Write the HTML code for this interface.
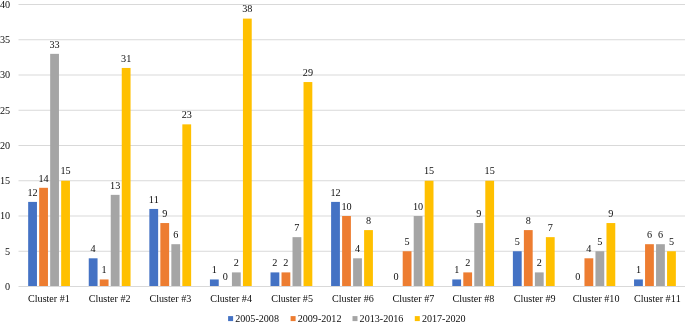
<!DOCTYPE html><html><head><meta charset="utf-8"><style>html,body{margin:0;padding:0;background:#fff;overflow:hidden}svg{display:block;will-change:transform}text{font-kerning:none;font-family:"Liberation Serif",serif;font-size:10.2px;fill:#0d0d0d}</style></head><body>
<svg width="685" height="325" viewBox="0 0 685 325">
<rect width="685" height="325" fill="#fff"/>
<line x1="18.5" x2="685" y1="286.50" y2="286.50" stroke="#D9D9D9" stroke-width="1"/>
<text x="10.1" y="289.80" text-anchor="end">0</text>
<line x1="18.5" x2="685" y1="251.25" y2="251.25" stroke="#D9D9D9" stroke-width="1"/>
<text x="10.1" y="254.55" text-anchor="end">5</text>
<line x1="18.5" x2="685" y1="216.00" y2="216.00" stroke="#D9D9D9" stroke-width="1"/>
<text x="10.1" y="219.30" text-anchor="end">10</text>
<line x1="18.5" x2="685" y1="180.75" y2="180.75" stroke="#D9D9D9" stroke-width="1"/>
<text x="10.1" y="184.05" text-anchor="end">15</text>
<line x1="18.5" x2="685" y1="145.50" y2="145.50" stroke="#D9D9D9" stroke-width="1"/>
<text x="10.1" y="148.80" text-anchor="end">20</text>
<line x1="18.5" x2="685" y1="110.25" y2="110.25" stroke="#D9D9D9" stroke-width="1"/>
<text x="10.1" y="113.55" text-anchor="end">25</text>
<line x1="18.5" x2="685" y1="75.00" y2="75.00" stroke="#D9D9D9" stroke-width="1"/>
<text x="10.1" y="78.30" text-anchor="end">30</text>
<line x1="18.5" x2="685" y1="39.75" y2="39.75" stroke="#D9D9D9" stroke-width="1"/>
<text x="10.1" y="43.05" text-anchor="end">35</text>
<line x1="18.5" x2="685" y1="4.50" y2="4.50" stroke="#D9D9D9" stroke-width="1"/>
<text x="10.1" y="7.80" text-anchor="end">40</text>
<rect x="28.16" y="201.90" width="8.80" height="84.10" fill="#4472C4"/>
<text x="32.56" y="195.60" text-anchor="middle">12</text>
<rect x="39.16" y="187.80" width="8.80" height="98.20" fill="#ED7D31"/>
<text x="43.56" y="181.50" text-anchor="middle">14</text>
<rect x="50.16" y="53.85" width="8.80" height="232.15" fill="#A5A5A5"/>
<text x="54.56" y="47.55" text-anchor="middle">33</text>
<rect x="61.16" y="180.75" width="8.80" height="105.25" fill="#FFC000"/>
<text x="65.56" y="174.45" text-anchor="middle">15</text>
<text x="48.95" y="302.2" text-anchor="middle" style="font-size:10.1px">Cluster #1</text>
<rect x="88.75" y="258.30" width="8.80" height="27.70" fill="#4472C4"/>
<text x="93.15" y="252.00" text-anchor="middle">4</text>
<rect x="99.75" y="279.45" width="8.80" height="6.55" fill="#ED7D31"/>
<text x="104.15" y="273.15" text-anchor="middle">1</text>
<rect x="110.75" y="194.85" width="8.80" height="91.15" fill="#A5A5A5"/>
<text x="115.15" y="188.55" text-anchor="middle">13</text>
<rect x="121.75" y="67.95" width="8.80" height="218.05" fill="#FFC000"/>
<text x="126.15" y="61.65" text-anchor="middle">31</text>
<text x="109.65" y="302.2" text-anchor="middle" style="font-size:10.1px">Cluster #2</text>
<rect x="149.34" y="208.95" width="8.80" height="77.05" fill="#4472C4"/>
<text x="153.74" y="202.65" text-anchor="middle">11</text>
<rect x="160.34" y="223.05" width="8.80" height="62.95" fill="#ED7D31"/>
<text x="164.74" y="216.75" text-anchor="middle">9</text>
<rect x="171.34" y="244.20" width="8.80" height="41.80" fill="#A5A5A5"/>
<text x="175.74" y="237.90" text-anchor="middle">6</text>
<rect x="182.34" y="124.35" width="8.80" height="161.65" fill="#FFC000"/>
<text x="186.74" y="118.05" text-anchor="middle">23</text>
<text x="170.35" y="302.2" text-anchor="middle" style="font-size:10.1px">Cluster #3</text>
<rect x="209.93" y="279.45" width="8.80" height="6.55" fill="#4472C4"/>
<text x="214.33" y="273.15" text-anchor="middle">1</text>
<text x="225.33" y="280.20" text-anchor="middle">0</text>
<rect x="231.93" y="272.40" width="8.80" height="13.60" fill="#A5A5A5"/>
<text x="236.33" y="266.10" text-anchor="middle">2</text>
<rect x="242.93" y="18.60" width="8.80" height="267.40" fill="#FFC000"/>
<text x="247.33" y="11.70" text-anchor="middle">38</text>
<text x="231.05" y="302.2" text-anchor="middle" style="font-size:10.1px">Cluster #4</text>
<rect x="270.52" y="272.40" width="8.80" height="13.60" fill="#4472C4"/>
<text x="274.92" y="266.10" text-anchor="middle">2</text>
<rect x="281.52" y="272.40" width="8.80" height="13.60" fill="#ED7D31"/>
<text x="285.92" y="266.10" text-anchor="middle">2</text>
<rect x="292.52" y="237.15" width="8.80" height="48.85" fill="#A5A5A5"/>
<text x="296.92" y="230.85" text-anchor="middle">7</text>
<rect x="303.52" y="82.05" width="8.80" height="203.95" fill="#FFC000"/>
<text x="307.92" y="75.75" text-anchor="middle">29</text>
<text x="292.05" y="302.2" text-anchor="middle" style="font-size:10.1px">Cluster #5</text>
<rect x="331.11" y="201.90" width="8.80" height="84.10" fill="#4472C4"/>
<text x="335.51" y="195.60" text-anchor="middle">12</text>
<rect x="342.11" y="216.00" width="8.80" height="70.00" fill="#ED7D31"/>
<text x="346.51" y="209.70" text-anchor="middle">10</text>
<rect x="353.11" y="258.30" width="8.80" height="27.70" fill="#A5A5A5"/>
<text x="357.51" y="252.00" text-anchor="middle">4</text>
<rect x="364.11" y="230.10" width="8.80" height="55.90" fill="#FFC000"/>
<text x="368.51" y="223.80" text-anchor="middle">8</text>
<text x="352.95" y="302.2" text-anchor="middle" style="font-size:10.1px">Cluster #6</text>
<text x="396.10" y="280.20" text-anchor="middle">0</text>
<rect x="402.70" y="251.25" width="8.80" height="34.75" fill="#ED7D31"/>
<text x="407.10" y="244.95" text-anchor="middle">5</text>
<rect x="413.70" y="216.00" width="8.80" height="70.00" fill="#A5A5A5"/>
<text x="418.10" y="209.70" text-anchor="middle">10</text>
<rect x="424.70" y="180.75" width="8.80" height="105.25" fill="#FFC000"/>
<text x="429.10" y="174.45" text-anchor="middle">15</text>
<text x="413.40" y="302.2" text-anchor="middle" style="font-size:10.1px">Cluster #7</text>
<rect x="452.29" y="279.45" width="8.80" height="6.55" fill="#4472C4"/>
<text x="456.69" y="273.15" text-anchor="middle">1</text>
<rect x="463.29" y="272.40" width="8.80" height="13.60" fill="#ED7D31"/>
<text x="467.69" y="266.10" text-anchor="middle">2</text>
<rect x="474.29" y="223.05" width="8.80" height="62.95" fill="#A5A5A5"/>
<text x="478.69" y="216.75" text-anchor="middle">9</text>
<rect x="485.29" y="180.75" width="8.80" height="105.25" fill="#FFC000"/>
<text x="489.69" y="174.45" text-anchor="middle">15</text>
<text x="473.35" y="302.2" text-anchor="middle" style="font-size:10.1px">Cluster #8</text>
<rect x="512.88" y="251.25" width="8.80" height="34.75" fill="#4472C4"/>
<text x="517.28" y="244.95" text-anchor="middle">5</text>
<rect x="523.88" y="230.10" width="8.80" height="55.90" fill="#ED7D31"/>
<text x="528.28" y="223.80" text-anchor="middle">8</text>
<rect x="534.88" y="272.40" width="8.80" height="13.60" fill="#A5A5A5"/>
<text x="539.28" y="266.10" text-anchor="middle">2</text>
<rect x="545.88" y="237.15" width="8.80" height="48.85" fill="#FFC000"/>
<text x="550.28" y="230.85" text-anchor="middle">7</text>
<text x="534.65" y="302.2" text-anchor="middle" style="font-size:10.1px">Cluster #9</text>
<text x="577.87" y="280.20" text-anchor="middle">0</text>
<rect x="584.47" y="258.30" width="8.80" height="27.70" fill="#ED7D31"/>
<text x="588.87" y="252.00" text-anchor="middle">4</text>
<rect x="595.47" y="251.25" width="8.80" height="34.75" fill="#A5A5A5"/>
<text x="599.87" y="244.95" text-anchor="middle">5</text>
<rect x="606.47" y="223.05" width="8.80" height="62.95" fill="#FFC000"/>
<text x="610.87" y="216.75" text-anchor="middle">9</text>
<text x="596.05" y="302.2" text-anchor="middle" style="font-size:10.1px">Cluster #10</text>
<rect x="634.06" y="279.45" width="8.80" height="6.55" fill="#4472C4"/>
<text x="638.46" y="273.15" text-anchor="middle">1</text>
<rect x="645.06" y="244.20" width="8.80" height="41.80" fill="#ED7D31"/>
<text x="649.46" y="237.90" text-anchor="middle">6</text>
<rect x="656.06" y="244.20" width="8.80" height="41.80" fill="#A5A5A5"/>
<text x="660.46" y="237.90" text-anchor="middle">6</text>
<rect x="667.06" y="251.25" width="8.80" height="34.75" fill="#FFC000"/>
<text x="671.46" y="244.95" text-anchor="middle">5</text>
<text x="657.35" y="302.2" text-anchor="middle" style="font-size:10.1px">Cluster #11</text>
<rect x="228.10" y="316.1" width="5" height="5" fill="#4472C4"/>
<text x="235.20" y="321.8" style="font-size:10.1px">2005-2008</text>
<rect x="290.60" y="316.1" width="5" height="5" fill="#ED7D31"/>
<text x="297.70" y="321.8" style="font-size:10.1px">2009-2012</text>
<rect x="352.50" y="316.1" width="5" height="5" fill="#A5A5A5"/>
<text x="359.60" y="321.8" style="font-size:10.1px">2013-2016</text>
<rect x="414.80" y="316.1" width="5" height="5" fill="#FFC000"/>
<text x="421.90" y="321.8" style="font-size:10.1px">2017-2020</text>
</svg></body></html>
